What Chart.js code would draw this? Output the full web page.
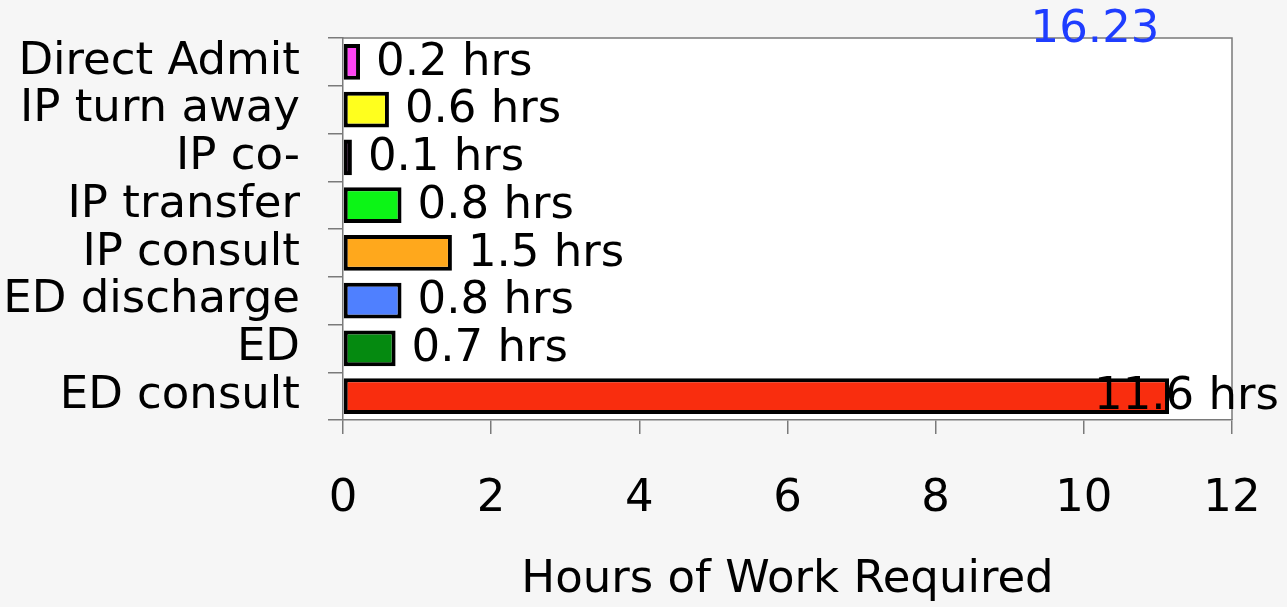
<!DOCTYPE html>
<html>
<head>
<meta charset="utf-8">
<script src="https://cdn.jsdelivr.net/npm/chart.js@4"></script>
<style>
  html, body { margin: 0; padding: 0; background: #f6f6f6; }
  #wrap { width: 1287px; height: 607px; position: relative; }
</style>
</head>
<body>
<div id="wrap"><canvas id="c" width="1287" height="607"></canvas></div>
<script>
const categories = ["Direct Admit", "IP turn away", "IP co-", "IP transfer", "IP consult", "ED discharge", "ED", "ED consult"];
const hours = [0.23, 0.62, 0.12, 0.79, 1.47, 0.79, 0.71, 11.15];
const valueLabels = ["0.2 hrs", "0.6 hrs", "0.1 hrs", "0.8 hrs", "1.5 hrs", "0.8 hrs", "0.7 hrs", "11.6 hrs"];
const barColors = ["#ff44f4", "#ffff1e", "#9c1a9a", "#0cf516", "#ffa81c", "#4f80ff", "#058a10", "#f92d0e"];
const xTicks = [0, 2, 4, 6, 8, 10, 12];
const cornerNote = "16.23";
const axisTitle = "Hours of Work Required";

const FONT = "'DejaVu Sans', sans-serif";
const FS = 45;

const bgPlugin = {
  id: 'plotBg',
  beforeDraw(chart) {
    const {ctx, chartArea: a} = chart;
    ctx.save();
    ctx.fillStyle = '#ffffff';
    ctx.fillRect(a.left, a.top, a.right - a.left, a.bottom - a.top);
    ctx.restore();
  },
  afterDatasetsDraw(chart) {
    const {ctx, chartArea: a} = chart;
    ctx.save();
    ctx.strokeStyle = '#7a7a7a';
    ctx.lineWidth = 1.5;
    ctx.beginPath();
    ctx.moveTo(a.left, a.top); ctx.lineTo(a.right, a.top); ctx.lineTo(a.right, a.bottom);
    ctx.stroke();
    ctx.font = FS + "px " + FONT;
    ctx.fillStyle = '#000';
    ctx.textBaseline = 'middle';
    ctx.textAlign = 'left';
    const meta = chart.getDatasetMeta(0);
    meta.data.forEach((bar, i) => {
      const txt = valueLabels[i];
      const w = ctx.measureText(txt).width;
      let x = bar.x + 16;
      if (x + w > chart.width - 8) x = chart.width - 8 - w;
      ctx.fillText(txt, x, bar.y + 1);
    });
    ctx.fillStyle = '#1f3dff';
    ctx.textAlign = 'center';
    ctx.fillText(cornerNote, 1095, 30);
    ctx.restore();
  }
};

new Chart(document.getElementById('c'), {
  type: 'bar',
  data: {
    labels: categories,
    datasets: [{
      data: hours,
      backgroundColor: barColors,
      borderColor: '#000',
      borderWidth: 4,
      borderSkipped: false,
      barPercentage: 0.75,
      categoryPercentage: 1.0
    }]
  },
  options: {
    indexAxis: 'y',
    responsive: false,
    animation: false,
    events: [],
    layout: { padding: { top: 38, right: 55, left: 0, bottom: 0 } },
    plugins: { legend: { display: false }, tooltip: { enabled: false } },
    scales: {
      x: {
        min: 0, max: 12,
        afterFit(s) { s.height = 187; s.paddingLeft = 0; s.paddingRight = 0; },
        afterBuildTicks(s) { s.ticks = xTicks.map(v => ({value: v})); },
        ticks: { color: '#000', font: { family: FONT, size: FS }, padding: 38, maxRotation: 0 },
        grid: { drawOnChartArea: false, drawTicks: true, tickLength: 14, color: '#7a7a7a', lineWidth: 1.5 },
        border: { display: true, color: '#7a7a7a', width: 1.5 },
        title: { display: true, text: axisTitle, color: '#000', font: { family: FONT, size: FS }, padding: { top: 0, bottom: 0 } }
      },
      y: {
        afterFit(s) { s.width = 343; s.paddingTop = 0; s.paddingBottom = 0; },
        ticks: { color: '#000', font: { family: FONT, size: FS }, padding: 28, autoSkip: false },
        grid: { drawOnChartArea: false, drawTicks: true, tickLength: 15, color: '#7a7a7a', lineWidth: 1.5, offset: true },
        border: { display: true, color: '#7a7a7a', width: 1.5 }
      }
    }
  },
  plugins: [bgPlugin]
});
</script>
</body>
</html>
